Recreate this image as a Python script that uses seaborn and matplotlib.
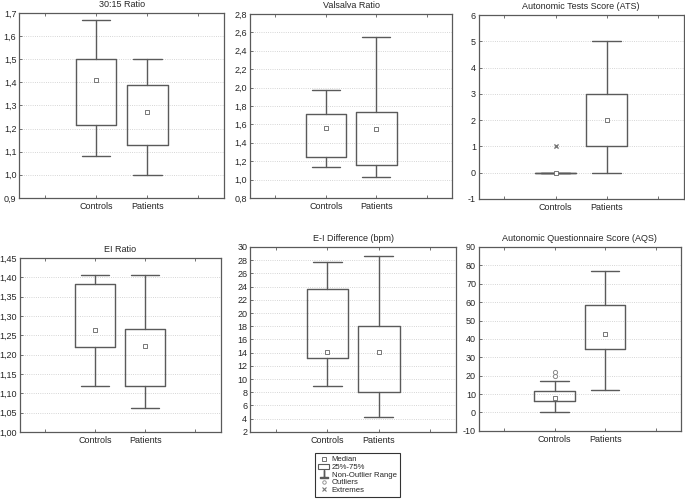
import numpy as np
import matplotlib
matplotlib.use('Agg')
import matplotlib.pyplot as plt
from matplotlib.lines import Line2D
from matplotlib.patches import Rectangle
from matplotlib.ticker import FixedLocator, FuncFormatter
import seaborn as sns

sns.set_style("white")
plt.rcParams['font.family'] = ['Liberation Sans', 'DejaVu Sans']

groups = ["Controls", "Patients"]

# 30:15 Ratio
r3015_lo = [1.08, 1.00]
r3015_q1 = [1.215, 1.13]
r3015_med = [1.41, 1.27]
r3015_q3 = [1.50, 1.39]
r3015_hi = [1.668, 1.50]

# Valsalva Ratio
vals_lo = [1.14, 1.03]
vals_q1 = [1.25, 1.155]
vals_med = [1.56, 1.55]
vals_q3 = [1.71, 1.735]
vals_hi = [1.97, 2.55]

# Autonomic Tests Score (ATS)
ats_lo = [0, 0]
ats_q1 = [0, 1]
ats_med = [0, 2]
ats_q3 = [0, 3]
ats_hi = [0, 5]
ats_extremes = [1]        # Controls

# EI Ratio
ei_lo = [1.118, 1.062]
ei_q1 = [1.220, 1.118]
ei_med = [1.263, 1.222]
ei_q3 = [1.384, 1.265]
ei_hi = [1.407, 1.405]

# E-I Difference (bpm)
eid_lo = [8.9, 4.2]
eid_q1 = [13.25, 8.1]
eid_med = [14.05, 14.1]
eid_q3 = [23.6, 18.05]
eid_hi = [27.7, 28.65]

# Autonomic Questionnaire Score (AQS)
aqs_lo = [0, 12]
aqs_q1 = [6, 34.3]
aqs_med = [8, 42.5]
aqs_q3 = [11.5, 58.5]
aqs_hi = [17, 77]
aqs_outliers = [20, 22]   # Controls

panels = [
    ("30:15 Ratio", r3015_lo, r3015_q1, r3015_med, r3015_q3, r3015_hi, [], [], (0.9, 1.7), 0.1, 1),
    ("Valsalva Ratio", vals_lo, vals_q1, vals_med, vals_q3, vals_hi, [], [], (0.8, 2.8), 0.2, 1),
    ("Autonomic Tests Score (ATS)", ats_lo, ats_q1, ats_med, ats_q3, ats_hi, [], ats_extremes, (-1, 6), 1, 0),
    ("EI Ratio", ei_lo, ei_q1, ei_med, ei_q3, ei_hi, [], [], (1.0, 1.45), 0.05, 2),
    ("E-I Difference (bpm)", eid_lo, eid_q1, eid_med, eid_q3, eid_hi, [], [], (2, 30), 2, 0),
    ("Autonomic Questionnaire Score (AQS)", aqs_lo, aqs_q1, aqs_med, aqs_q3, aqs_hi, aqs_outliers, [], (-10, 90), 10, 0),
]

# axes rectangles in figure fractions
rects = [
    [0.028, 0.605, 0.299, 0.369],
    [0.365, 0.605, 0.295, 0.367],
    [0.699, 0.603, 0.299, 0.367],
    [0.029, 0.138, 0.293, 0.347],
    [0.365, 0.138, 0.301, 0.369],
    [0.699, 0.140, 0.295, 0.367],
]

gray = "#5a5a5a"
fs = 6.5

fig = plt.figure(figsize=(6.85, 5.01), dpi=100)

for (title, lo, q1, med, q3, hi, outl, extr, ylim, step, dec), rect in zip(panels, rects):
    ax = fig.add_axes(rect)
    stats = [dict(whislo=lo[i], q1=q1[i], med=med[i], q3=q3[i], whishi=hi[i], fliers=[])
             for i in range(2)]
    ax.bxp(stats, positions=[1, 2], widths=0.8, capwidths=0.56, showfliers=False,
           boxprops=dict(color=gray, linewidth=1),
           whiskerprops=dict(color=gray, linewidth=1),
           capprops=dict(color=gray, linewidth=1),
           medianprops=dict(linewidth=0))
    sns.scatterplot(x=[1, 2], y=med, marker="s", s=9, facecolor="white",
                    edgecolor="#777777", linewidth=0.7, ax=ax, zorder=5)
    if outl:
        sns.scatterplot(x=[1] * len(outl), y=outl, marker="o", s=9, facecolor="white",
                        edgecolor="#888888", linewidth=0.7, ax=ax, zorder=5)
    if extr:
        sns.scatterplot(x=[1] * len(extr), y=extr, marker="x", s=9, color="#777777",
                        linewidth=1, ax=ax, zorder=5)

    ax.set_xlim(-0.5, 3.5)
    ax.set_ylim(*ylim)
    ax.xaxis.set_major_locator(FixedLocator([0, 1, 2, 3]))
    ax.set_xticklabels(["", groups[0], groups[1], ""])
    ax.set_yticks(np.arange(ylim[0], ylim[1] + step / 2, step))
    ax.yaxis.set_major_formatter(FuncFormatter(
        lambda v, p, d=dec: f"{v:.{d}f}".replace(".", ",") if d else f"{int(round(v))}"))
    ax.tick_params(axis="both", direction="in", length=2, width=0.6, color=gray,
                   labelsize=fs, pad=3, top=True, right=False, left=True, bottom=True)
    ax.tick_params(axis="y", pad=2)
    ax.grid(axis="y", linestyle=":", color="#c8c8c8", linewidth=0.6)
    for sp in ax.spines.values():
        sp.set_color(gray)
        sp.set_linewidth(0.9)
    ax.set_title(title, fontsize=fs, pad=4)
    ax.set_xlabel("")
    ax.set_ylabel("")

# legend
handles = [
    Line2D([], [], linestyle="none", marker="s", markersize=2.5, markerfacecolor="white",
           markeredgecolor=gray, markeredgewidth=0.6),
    Rectangle((0, 0), 1, 1, facecolor="white", edgecolor=gray, linewidth=0.8),
    Line2D([], [], linestyle="none", marker=r"$\perp$", markersize=6, color=gray),
    Line2D([], [], linestyle="none", marker="o", markersize=2.5, markerfacecolor="white",
           markeredgecolor="#888888", markeredgewidth=0.6),
    Line2D([], [], linestyle="none", marker="x", markersize=2.5, color="#777777",
           markeredgewidth=0.8),
]
labels = ["Median", "25%-75%", "Non-Outlier Range", "Outliers", "Extremes"]
leg = fig.legend(handles, labels, loc="center", bbox_to_anchor=(0.522, 0.052),
                 fontsize=5.6, frameon=True, fancybox=False, handlelength=1.4,
                 handletextpad=0.3, labelspacing=0.02, borderpad=0.45)
leg.get_frame().set_edgecolor("black")
leg.get_frame().set_linewidth(0.8)

fig.savefig("out.png", dpi=100)
